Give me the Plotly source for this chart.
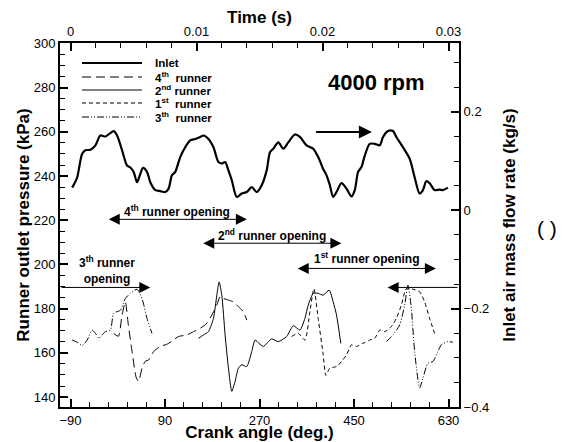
import plotly.graph_objects as go

# ---------------- data ----------------
inlet_deg = [-86.8, -77.3, -67.8, -61.5, -52, -42.5, -33, -23.5, -7.7, -1.3, 8.2, 17.7, 24, 30.3, 36.7,
             43, 48.1, 55.7, 62, 71.5, 81, 90.5, 96.8, 103.2, 109.5, 119, 128.5, 138, 147.5, 157,
             163.3, 172.8, 182.3, 191.8, 198.2, 204.5, 210.8, 217.2, 226.7, 236.2, 245.7, 255.2,
             264.7, 274.2, 283.7, 290, 296.3, 305.8, 315.3, 324.8, 337.5, 347, 359.7, 372.3, 381.8,
             391.3, 397.7, 404, 410.3, 416.7, 426.2, 435.7, 445.2, 451.5, 457.8, 464.2, 470.5, 480,
             489.5, 499, 505.3, 514.8, 524.3, 530.7, 543.3, 556, 565.5, 575, 581.3, 587.7, 594,
             603.5, 613, 619.3, 628.8]
inlet_flow = [0.046, 0.067, 0.115, 0.122, 0.123, 0.132, 0.152, 0.150, 0.161, 0.152, 0.122, 0.091,
              0.087, 0.078, 0.057, 0.074, 0.086, 0.078, 0.057, 0.041, 0.039, 0.037, 0.044, 0.071,
              0.078, 0.108, 0.128, 0.142, 0.145, 0.149, 0.152, 0.145, 0.128, 0.098, 0.095, 0.098,
              0.081, 0.061, 0.027, 0.034, 0.037, 0.047, 0.037, 0.051, 0.081, 0.118, 0.125, 0.138,
              0.125, 0.138, 0.154, 0.149, 0.132, 0.125, 0.108, 0.084, 0.071, 0.051, 0.027, 0.037,
              0.055, 0.044, 0.028, 0.041, 0.078, 0.088, 0.111, 0.135, 0.135, 0.132, 0.149, 0.161,
              0.161, 0.149, 0.128, 0.105, 0.067, 0.034, 0.041, 0.059, 0.055, 0.041, 0.042, 0.041,
              0.046]

r4_deg = [-7.7, 1.2, 8.2, 14.5, 20.2, 27.2, 35.4, 39.8, 46.2, 52.5, 58.8, 68.3, 81, 93.7, 106.3,
          115.8, 131.7, 144.3, 157, 169.7, 179.2, 188.7, 195, 201.3, 210.8, 220.3, 229.8, 239.3, 245.7]
r4_kpa = [168.8, 167.5, 177.1, 183.1, 172.5, 160.7, 148.6, 147.1, 153.1, 156.2, 156.8, 160.6, 162.9,
          163.9, 165.8, 167.4, 168.1, 169.6, 171.1, 173.4, 177.1, 181.6, 185.4, 184.6, 183.9, 183.1,
          180.9, 178.6, 174.8]

r2_deg = [153.8, 163.3, 172.8, 182.3, 188.7, 193.1, 198.2, 204.5, 210.8, 217.2, 223.5, 229.8, 236.2,
          245.7, 255.2, 261.5, 269.1, 277.3, 293.2, 305.8, 321.7, 334.3, 347, 356.5, 362.8, 372.3,
          381.8, 391.3, 402.7, 410.3, 416.7, 424.9]
r2_kpa = [166.6, 168.1, 169.6, 175.6, 186.1, 192.1, 186.1, 168.1, 153.1, 142.6, 147.1, 153.1, 154.6,
          153.8, 160.6, 165.8, 164.3, 162.9, 166.3, 165.1, 167.4, 172.3, 170.3, 175.6, 181.6, 186.9,
          186.9, 186.1, 188.4, 183.1, 177.1, 164.3]

r1_deg = [331.2, 343.8, 356.5, 366, 373.6, 381.8, 391.3, 396.4, 404, 416.7, 426.2, 435.7, 445.2,
          454.7, 467.3, 480, 489.5, 499, 508.5, 521.2, 530.7, 540.2, 549.7, 562.3, 575, 584.5,
          594, 603.5]
r1_kpa = [167.4, 168.8, 165.8, 178.6, 189.1, 175.6, 159.1, 149.8, 153.1, 153.8, 156.1, 159.1, 163.6,
          162.9, 164.3, 165.8, 166.6, 170.3, 169.6, 171.9, 175.6, 181.6, 189.1, 188.8, 187.6, 183.1,
          175.6, 168.8]

r3_deg = [-86.8, -77.3, -67.8, -58.3, -48.8, -42.5, -36.2, -29.8, -23.5, -14, -7.7, 5, 14.5, 24,
          36.7, 46.2, 55.7, 65.2, None,
          511.7, 524.3, 537, 546.5, 552.8, 559.2, 565.5, 575, 581.3, 590.8, 600.3, 609.8, 616.2,
          628.8, 638.3]
r3_kpa = [165.8, 164.8, 163.3, 165.8, 170.3, 168.8, 166.6, 168.1, 169.6, 170.3, 177.9, 179.3, 184.6,
          186.9, 188.8, 184.6, 175.6, 168.8, None,
          165.1, 168.1, 172.6, 181.6, 190.6, 180.1, 160.6, 144.1, 148.6, 155.3, 156.1, 160.6, 163.6,
          165.1, 164.8]

# runner opening intervals (crank angle, deg) and level (kPa)
open_labels = ["4<sup>th</sup> runner opening", "2<sup>nd</sup> runner opening",
               "1<sup>st</sup> runner opening"]
open_start = [-20, 160, 340]
open_end = [246, 426, 606]
open_level = [220.4, 209.6, 198.2]
open_text_level = [224.2, 213.4, 202.8]
r3_open_end = 62
r3_open_restart = 514
r3_level = 189.6

legend_names = ["Inlet", "4<sup>th</sup>  runner", "2<sup>nd</sup> runner",
                "1<sup>st</sup>  runner", "3<sup>th</sup>  runner"]

XR = [-110, 650]
YL = [135.5, 300.2]
YR = [-0.4, 0.34]
RPM = 4000
deg_per_s = RPM / 60 * 360
TR = [(XR[0] + 90) / deg_per_s, (XR[1] + 90) / deg_per_s]

FONT = "Liberation Sans, Arial, sans-serif"

fig = go.Figure()

dash4 = "9px,5px"
dash1 = "4px,3px"
dash3 = "7px,2px,1px,2px,1px,2px"

fig.add_trace(go.Scatter(x=r3_deg, y=r3_kpa, mode="lines", name="3th runner",
                         line=dict(color="black", width=1, dash=dash3, shape="spline", smoothing=0.6),
                         connectgaps=False))
fig.add_trace(go.Scatter(x=r1_deg, y=r1_kpa, mode="lines", name="1st runner",
                         line=dict(color="black", width=1, dash=dash1, shape="spline", smoothing=0.6)))
fig.add_trace(go.Scatter(x=r2_deg, y=r2_kpa, mode="lines", name="2nd runner",
                         line=dict(color="black", width=1, shape="spline", smoothing=0.6)))
fig.add_trace(go.Scatter(x=r4_deg, y=r4_kpa, mode="lines", name="4th runner",
                         line=dict(color="black", width=1, dash=dash4, shape="spline", smoothing=0.6)))
fig.add_trace(go.Scatter(x=inlet_deg, y=inlet_flow, mode="lines", name="Inlet", yaxis="y2",
                         line=dict(color="black", width=2.2, shape="spline", smoothing=0.8)))
# time axis carrier (invisible)
fig.add_trace(go.Scatter(x=[0, 0.03], y=[YL[0], YL[0]], xaxis="x2", yaxis="y", mode="markers",
                         marker=dict(size=1, opacity=0), hoverinfo="skip", showlegend=False))

tickfont = dict(family=FONT, size=13, color="black")
titlefont = dict(family=FONT, size=17, color="black", weight="bold")

common = dict(showline=True, linecolor="black", linewidth=2, ticks="inside", tickcolor="black",
              tickwidth=1.5, ticklen=8, showgrid=False, zeroline=False, tickfont=tickfont,
              automargin=False)

# page body has an 8px margin: figure is 8px smaller so the plot lands where the reference has it
fig.update_layout(
    width=562, height=434,
    margin=dict(l=52, r=111, t=35, b=35),
    paper_bgcolor="white", plot_bgcolor="white",
    showlegend=False,
    font=dict(family=FONT, color="black"),
    xaxis=dict(range=XR, tick0=-90, dtick=180,
               title=dict(text="Crank angle (deg.)", font=dict(family=FONT, size=17, color="black", weight="bold"), standoff=0),
               minor=dict(dtick=36, tick0=-90, ticks="inside", ticklen=5, tickcolor="black", tickwidth=1),
               **common),
    xaxis2=dict(range=TR, overlaying="x", side="top", anchor="y", tick0=0, dtick=0.01,
                title=dict(text="Time (s)", font=titlefont, standoff=0),
                minor=dict(dtick=0.002, tick0=0, ticks="inside", ticklen=5, tickcolor="black", tickwidth=1),
                **common),
    yaxis=dict(range=YL, tick0=140, dtick=20,
               title=dict(text="Runner outlet pressure (kPa)", font=titlefont, standoff=0),
               minor=dict(dtick=5, tick0=140, ticks="inside", ticklen=5, tickcolor="black", tickwidth=1),
               **common),
    yaxis2=dict(range=YR, overlaying="y", side="right", anchor="x", tick0=-0.4, dtick=0.2,
                title=dict(text="Inlet air mass flow rate (kg/s)", font=titlefont, standoff=15),
                minor=dict(dtick=0.05, tick0=-0.4, ticks="inside", ticklen=5, tickcolor="black", tickwidth=1),
                **common),
)

ann = []
bold12 = dict(family=FONT, size=12, color="black", weight="bold")
AS = 2.2
for lab, s, e, lv, tl in zip(open_labels, open_start, open_end, open_level, open_text_level):
    ann.append(dict(x=e, y=lv, ax=s, ay=lv, xref="x", yref="y", axref="x", ayref="y", text="",
                    showarrow=True, arrowhead=2, startarrowhead=2, arrowside="end+start",
                    arrowsize=AS, startarrowsize=AS, arrowwidth=1, arrowcolor="black"))
    ann.append(dict(x=(s + e) / 2, y=tl, xref="x", yref="y", text=lab, showarrow=False, font=bold12))
# 3rd runner opening: wraps around the cycle
ann.append(dict(x=r3_open_end, y=r3_level, ax=XR[0], ay=r3_level, xref="x", yref="y", axref="x", ayref="y",
                text="", showarrow=True, arrowhead=2, arrowsize=AS, arrowwidth=1, arrowcolor="black"))
ann.append(dict(x=r3_open_restart, y=r3_level, ax=XR[1], ay=r3_level, xref="x", yref="y", axref="x", ayref="y",
                text="", showarrow=True, arrowhead=2, arrowsize=AS, arrowwidth=1, arrowcolor="black"))
ann.append(dict(x=-20, y=197.5, xref="x", yref="y", text="3<sup>th</sup> runner<br>opening",
                showarrow=False, font=bold12, align="center"))
# arrow showing inlet curve belongs to right axis
ann.append(dict(x=484, y=0.159, ax=375, ay=0.159, xref="x", yref="y2", axref="x", ayref="y2", text="",
                showarrow=True, arrowhead=2, arrowsize=1.3, arrowwidth=2, arrowcolor="black"))
ann.append(dict(x=493, y=282.5, xref="x", yref="y", text=f"{RPM} rpm", showarrow=False,
                font=dict(family=FONT, size=22, color="black", weight="bold")))
ann.append(dict(x=(547 - 60) / 399, y=(407 - 228) / 364, xref="paper", yref="paper", text="( )",
                xanchor="center", yanchor="middle",
                showarrow=False, font=dict(family=FONT, size=21, color="black")))

# manual legend
rows_y = [0.945, 0.9066, 0.8709, 0.8352, 0.7967]
styles = [dict(width=2.2, dash="solid"), dict(width=1, dash=dash4), dict(width=1, dash="solid"),
          dict(width=1, dash=dash1), dict(width=1, dash=dash3)]
leg_font = dict(family=FONT, size=11.5, color="black", weight="bold")
shapes = []
for name, yy, st in zip(legend_names, rows_y, styles):
    shapes.append(dict(type="line", xref="paper", yref="paper", x0=0.0551, x1=0.2055, y0=yy, y1=yy,
                       line=dict(color="black", **st)))
    ann.append(dict(x=0.233, y=yy, xref="paper", yref="paper", text=name, showarrow=False,
                    xanchor="left", yanchor="middle", font=leg_font))

fig.update_layout(annotations=ann, shapes=shapes)
fig.write_html("out.html")
